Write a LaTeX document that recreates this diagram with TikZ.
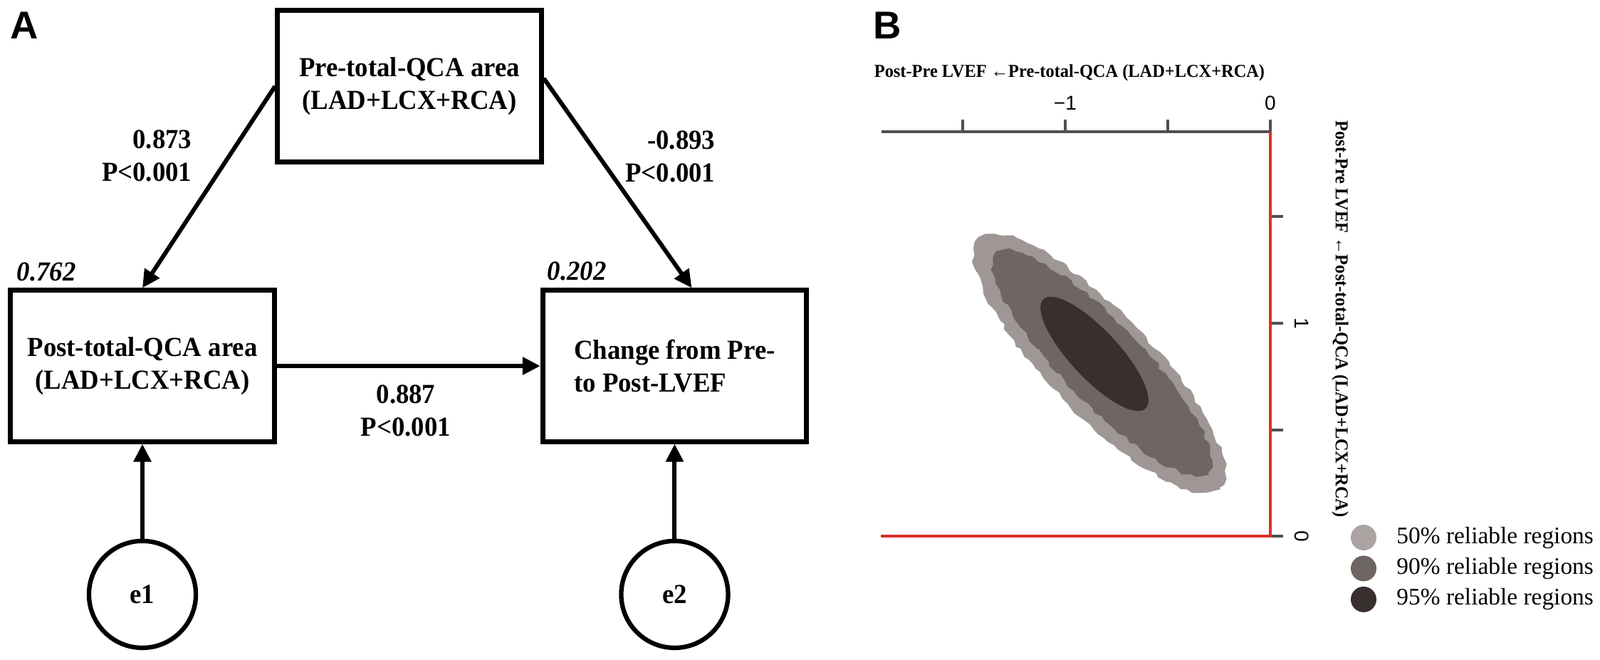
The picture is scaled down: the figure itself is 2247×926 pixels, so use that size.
\documentclass[tikz,border=0pt]{standalone}
\usepackage{fontspec}
\setmainfont{Liberation Serif}
\setsansfont{Liberation Sans}
\newfontfamily\condserif{Liberation Serif}[FakeStretch=0.95]
\usepackage{tikz}
\usetikzlibrary{shapes, arrows.meta, positioning, decorations.pathmorphing}
\usepackage{xcolor}
\definecolor{reg50}{HTML}{9E9795}
\definecolor{reg90}{HTML}{6E6663}
\definecolor{reg95}{HTML}{38302E}
\definecolor{leg50}{HTML}{ABA4A3}
\definecolor{axred}{HTML}{D9312B}
\definecolor{axgray}{HTML}{505050}

\begin{document}
\begin{tikzpicture}[x=0.01cm, y=-0.01cm,
    font=\fontsize{11}{13}\condserif\bfseries,
    varbox/.style={draw, line width=2pt, minimum width=3.7cm, minimum height=2.12cm, inner sep=0pt, align=center},
    err/.style={draw, circle, line width=1.8pt, minimum size=1.5cm, inner sep=0pt},
    arr/.style={line width=1.7pt, -{Triangle[length=0.25cm, width=0.24cm]}},
    coef/.style={inner sep=0pt},
    rsq/.style={font=\fontsize{11}{13}\condserif\bfseries\itshape, inner sep=0pt, anchor=base west},
    panel/.style={font=\fontsize{15.5}{18}\selectfont\sffamily\bfseries, inner sep=0pt},
    axtick/.style={draw=axgray, line width=1pt},
    ticklbl/.style={font=\fontsize{8}{9}\selectfont\sffamily, inner sep=0pt},
    axtitle/.style={font=\fontsize{7.3}{8}\condserif\bfseries, inner sep=0pt},
    legdot/.style={circle, inner sep=0pt, minimum size=0.36cm},
    legtext/.style={font=\fontsize{9.5}{11}\selectfont, inner sep=0pt},
    rough/.style={decorate, decoration={random steps, segment length=2.5pt, amplitude=0.8pt}}
]
\useasboundingbox (0,0) rectangle (2247,926);

% Panel A
\node[panel] (A) at (34,36) {A};

\node[varbox] (pre) at (575,121) {Pre-total-QCA area\\(LAD+LCX+RCA)};

\node[varbox] (post) at (200,514) {Post-total-QCA area\\(LAD+LCX+RCA)};

\node[varbox,
    right=3.7cm of post,
    align=left
] (chg) {Change from Pre-\\to Post-LVEF};

\node[err, below=1.33cm of post] (e1) {e1};
\node[err, below=1.33cm of chg] (e2) {e2};

% Coefficients
\node[coef, anchor=east, align=right] (b1) at (270,219) {0.873\\P<0.001};
\node[coef, anchor=east, align=right] (b2) at (1005,220) {-0.893\\P<0.001};
\node[coef, align=center] (b3) at (570,577) {0.887\\P<0.001};
\node[rsq] (r1) at (23,394) {0.762};
\node[rsq] (r2) at (768,393) {0.202};

% Arrows
\draw [arr] (pre.west) -- (post.north);
\draw [arr] ([yshift=0.11cm]pre.east) -- ([xshift=0.24cm]chg.north);
\draw [arr] (post.east) -- (chg.west);
\draw [arr] (e1) -- (post.south);
\draw [arr] (e2) -- (chg.south);

% Panel B
\node[panel] (B) at (1246,36) {B};

\coordinate (tl) at (1238,185);
\coordinate (tr) at (1784,185);
\coordinate (br) at (1784,753);
\coordinate (bl) at (1237,753);

% reliable regions
\fill[reg50, rough, rotate around={-46:(1544,510)}] (1544,510) ellipse [x radius=2.43cm, y radius=0.72cm];
\fill[reg90, rough, rotate around={-46:(1548,510)}] (1548,510) ellipse [x radius=2.14cm, y radius=0.56cm];
\fill[reg95, rotate around={-47:(1537,497)}] (1537,497) ellipse [x radius=1.05cm, y radius=0.34cm];

% axes
\draw[axgray, line width=1.3pt] (tl) -- (tr);
\foreach \x in {1352,1496,1640,1784}
    \draw[axtick] (\x,185) -- (\x,168);
\foreach \y in {304,454,604,753}
    \draw[axtick] (1784,\y) -- (1802,\y);
\draw[axred, line width=0.9pt] (bl) -- (br) -- (tr);

\node[ticklbl] (xm1) at (1496,145) {−1};
\node[ticklbl] (x0) at (1784,145) {0};
\node[ticklbl, rotate=-90] (y1) at (1828,454) {1};
\node[ticklbl, rotate=-90] (y0) at (1828,753) {0};

\node[axtitle] (xt) at (1502,102) {Post-Pre LVEF ←Pre-total-QCA (LAD+LCX+RCA)};
\node[axtitle, rotate=-90] (yt) at (1882,448) {Post-Pre LVEF ←Post-total-QCA (LAD+LCX+RCA)};

% legend
\node[legdot, fill=leg50] (d50) at (1915,755) {};
\node[legdot, fill=reg90, below=0.06cm of d50] (d90) {};
\node[legdot, fill=reg95, below=0.06cm of d90] (d95) {};
\node[legtext, right=0.27cm of d50] (t50) {50\% reliable regions};
\node[legtext, right=0.27cm of d90] (t90) {90\% reliable regions};
\node[legtext, right=0.27cm of d95] (t95) {95\% reliable regions};
\end{tikzpicture}
\end{document}
